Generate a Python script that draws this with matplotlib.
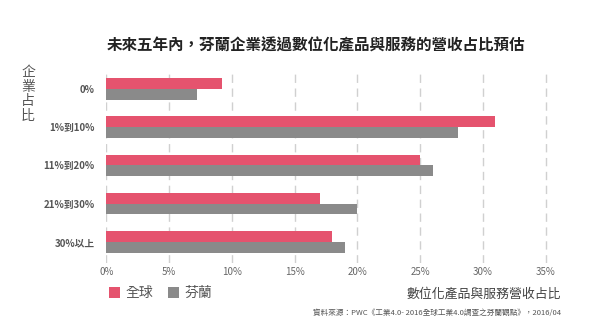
import numpy as np
import matplotlib
matplotlib.use('Agg')
import matplotlib.pyplot as plt

plt.rcParams['font.family'] = ['Noto Sans CJK TC', 'DejaVu Sans']

categories = ['0%', '1%到10%', '11%到20%', '21%到30%', '30%以上']
global_vals = [9.2, 31, 25, 17, 18]
finland_vals = [7.2, 28, 26, 20, 19]
xticks = [0, 5, 10, 15, 20, 25, 30, 35]
series_names = ['全球', '芬蘭']

red = '#E5536E'
grey = '#8A8A8A'

fig = plt.figure(figsize=(6.0, 3.32), dpi=100)
ax = fig.add_axes([106.3 / 600, 1 - 263 / 332, 443 / 600, 194 / 332])

y = np.arange(len(categories))
h = 0.28
b1 = ax.barh(y - h / 2, global_vals, height=h, color=red, label=series_names[0], zorder=3)
b2 = ax.barh(y + h / 2, finland_vals, height=h, color=grey, label=series_names[1], zorder=3)

ax.set_xlim(0, 35.3)
ax.set_ylim(4.55, -0.52)
ax.set_xticks(xticks)
ax.set_xticklabels([f'{v}%' for v in xticks], fontsize=7, color='#666666')
ax.set_yticks(y)
ax.set_yticklabels(categories, fontsize=7, fontweight='bold', color='#555555')
ax.tick_params(axis='x', length=0, pad=3)
ax.tick_params(axis='y', length=0, pad=8.5)
for s in ax.spines.values():
    s.set_visible(False)
ax.grid(axis='x', color='#D0D0D0', linestyle=(0, (6, 4)), linewidth=1.0, zorder=0)
ax.grid(axis='y', visible=False)

fig.text(316 / 600, 1 - 45 / 332, '未來五年內，芬蘭企業透過數位化產品與服務的營收占比預估',
         ha='center', va='center', fontsize=11.2, fontweight='bold', color='#222222')
fig.text(28 / 600, 1 - 94 / 332, '\n'.join('企業占比'), ha='center', va='center',
         fontsize=10, color='#555555', linespacing=1.05)

fig.legend(handles=[b1, b2], labels=series_names, loc='center left',
           bbox_to_anchor=(96 / 600, 1 - 293 / 332), ncol=2, frameon=False,
           fontsize=10, handlelength=0.85, handleheight=0.85, handletextpad=0.4,
           columnspacing=1.0, labelcolor='#555555')

fig.text(561 / 600, 1 - 294 / 332, '數位化產品與服務營收占比', ha='right', va='center',
         fontsize=9.3, color='#444444')
fig.text(561 / 600, 1 - 313 / 332,
         '資料來源：PWC《工業4.0- 2016全球工業4.0調查之芬蘭觀點》，2016/04',
         ha='right', va='center', fontsize=5.5, color='#555555')

fig.savefig('out.png', dpi=100)
